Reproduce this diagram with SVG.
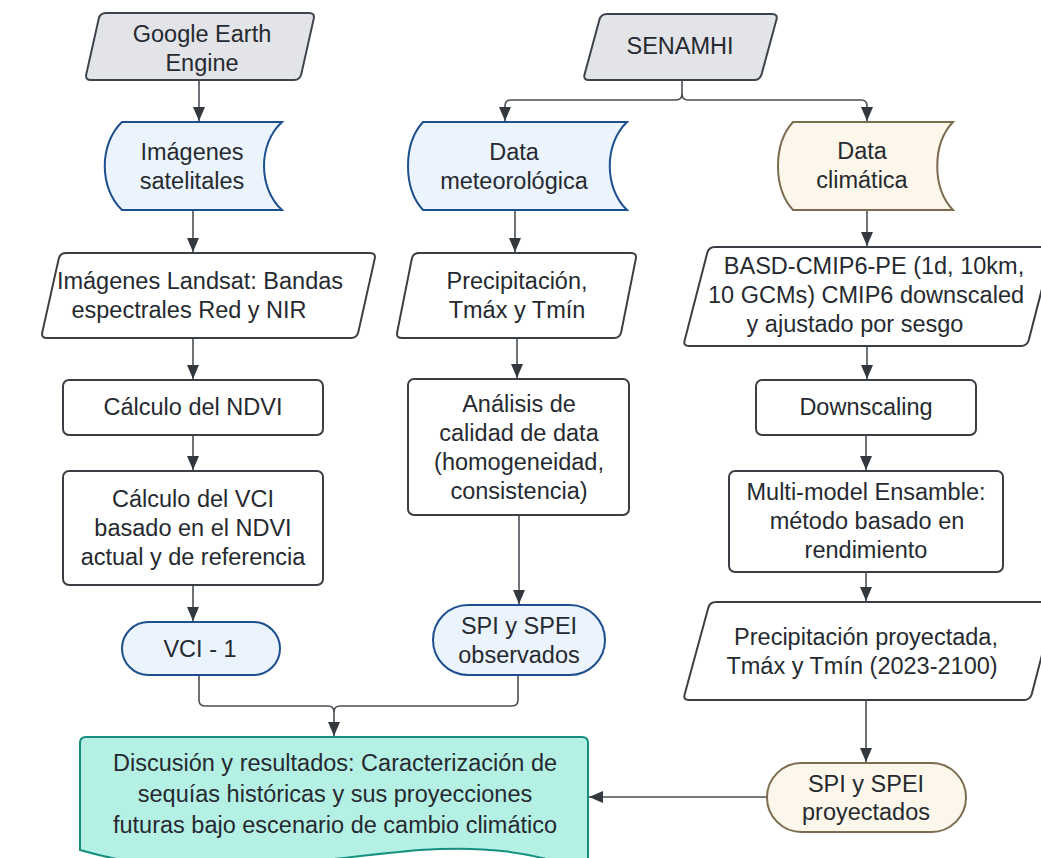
<svg xmlns="http://www.w3.org/2000/svg" width="1041" height="858" viewBox="0 0 1041 858">
<style>
text{font-family:"Liberation Sans",Arial,sans-serif;font-size:23.5px;fill:#262a30;text-anchor:middle}
.gray{fill:#e2e4e8;stroke:#3d434b;stroke-width:2}
.blue{fill:#ebf3fd;stroke:#1d4f8f;stroke-width:2}
.cream{fill:#fcf7ea;stroke:#7d6c4f;stroke-width:2}
.white{fill:#ffffff;stroke:#3a3f45;stroke-width:2}
.teal{fill:#b5f0e5;stroke:#16907e;stroke-width:2}
.conn path{fill:none;stroke:#4a4f56;stroke-width:1.6}
.arr{marker-end:url(#ah)}
</style>
<defs>
<marker id="ah" viewBox="0 0 14 12" refX="14" refY="6" markerWidth="14" markerHeight="12" markerUnits="userSpaceOnUse" orient="auto">
<path d="M0,0 L14,6 L0,12 Z" fill="#33383f"/>
</marker>
</defs>
<rect width="1041" height="858" fill="#ffffff"/>

<g id="connectors" class="conn">
<path class="arr" d="M199,80 V121"/>
<path class="arr" d="M193,210 V252"/>
<path class="arr" d="M193,338 V379"/>
<path class="arr" d="M193,435 V470"/>
<path class="arr" d="M193,585 V621"/>
<path class="arr" d="M682,80 V94 Q682,100 676,100 H511 Q505,100 505,106 V121"/>
<path class="arr" d="M682,94 Q682,100 688,100 H861 Q867,100 867,106 V121"/>
<path class="arr" d="M515,210 V252"/>
<path class="arr" d="M517,338 V378"/>
<path class="arr" d="M519,515 V604"/>
<path class="arr" d="M867,210 V246"/>
<path class="arr" d="M867,346 V379"/>
<path class="arr" d="M866,435 V470"/>
<path class="arr" d="M866,572 V601"/>
<path class="arr" d="M866,700 V762"/>
<path class="arr" d="M767,797 H589"/>
<path class="arr" d="M199,675 V700 Q199,706 205,706 H328 Q334,706 334,712 V736"/>
<path d="M518,675 V700 Q518,706 512,706 H340 Q334,706 334,712"/>
</g>

<g id="gee">
<path class="gray" d="M106,13 H309 Q315,13 313.7,18.85 L301.3,74.15 Q300,80 294,80 H91 Q85,80 86.3,74.15 L98.7,18.85 Q100,13 106,13 Z"/>
<text x="202" y="41.5">Google Earth</text>
<text x="202" y="70.5">Engine</text>
</g>

<g id="senamhi">
<path class="gray" d="M607,14 H772 Q778,14 776.4,19.8 L761.6,74.2 Q760,80 754,80 H589 Q583,80 584.6,74.2 L599.4,19.8 Q601,14 607,14 Z"/>
<text x="680" y="54">SENAMHI</text>
</g>

<g id="imagenes-satelitales">
<path class="blue" d="M122,122 H282 C258,144 258,188 282,210 H122 C99,188 99,144 122,122 Z"/>
<text x="192" y="160">Imágenes</text>
<text x="192" y="189">satelitales</text>
</g>

<g id="data-meteorologica">
<path class="blue" d="M423,122 H627 C604,144 604,188 627,210 H423 C403,188 403,144 423,122 Z"/>
<text x="514" y="160">Data</text>
<text x="514" y="189">meteorológica</text>
</g>

<g id="data-climatica">
<path class="cream" d="M793,122 H953 C932,144 932,188 953,210 H793 C773,188 773,144 793,122 Z"/>
<text x="862" y="159">Data</text>
<text x="862" y="188">climática</text>
</g>

<g id="landsat">
<path class="white" d="M66,253 H370 Q376,253 374.7,258.9 L358.3,332.1 Q357,338 351,338 H47 Q41,338 42.3,332.1 L58.7,258.9 Q60,253 66,253 Z"/>
<text x="200" y="289">Imágenes Landsat: Bandas</text>
<text x="189" y="318">espectrales Red y NIR</text>
</g>

<g id="precipitacion">
<path class="white" d="M419,253 H631 Q637,253 635.8,258.9 L621.2,332.1 Q620,338 614,338 H402 Q396,338 397.2,332.1 L411.8,258.9 Q413,253 419,253 Z"/>
<text x="517" y="289">Precipitación,</text>
<text x="517" y="318">Tmáx y Tmín</text>
</g>

<g id="basd">
<path class="white" d="M715,247 H1047 Q1053,247 1051.3,252.7 L1028.7,340.3 Q1027,346 1021,346 H689 Q683,346 684.7,340.3 L707.3,252.7 Q709,247 715,247 Z"/>
<text x="874" y="274">BASD-CMIP6-PE (1d, 10km,</text>
<text x="866" y="303">10 GCMs) CMIP6 downscaled</text>
<text x="855" y="332">y ajustado por sesgo</text>
</g>

<g id="ndvi">
<rect class="white" x="63" y="380" width="260" height="55" rx="6"/>
<text x="193" y="415">Cálculo del NDVI</text>
</g>

<g id="vci">
<rect class="white" x="63" y="471" width="260" height="114" rx="6"/>
<text x="193" y="507">Cálculo del VCI</text>
<text x="193" y="536">basado en el NDVI</text>
<text x="193" y="565">actual y de referencia</text>
</g>

<g id="analisis">
<rect class="white" x="408" y="379" width="221" height="136" rx="6"/>
<text x="519" y="412">Análisis de</text>
<text x="519" y="441">calidad de data</text>
<text x="519" y="470">(homogeneidad,</text>
<text x="519" y="499">consistencia)</text>
</g>

<g id="downscaling">
<rect class="white" x="756" y="380" width="220" height="55" rx="6"/>
<text x="866" y="415">Downscaling</text>
</g>

<g id="multimodel">
<rect class="white" x="729" y="471" width="274" height="101" rx="6"/>
<text x="866" y="500">Multi-model Ensamble:</text>
<text x="867" y="529">método basado en</text>
<text x="866" y="558">rendimiento</text>
</g>

<g id="precip-proyectada">
<path class="white" d="M716,602 H1050 Q1056,602 1054.3,607.7 L1031.7,694.3 Q1030,700 1024,700 H689 Q683,700 684.7,694.3 L708.3,607.7 Q710,602 716,602 Z"/>
<text x="866" y="645">Precipitación proyectada,</text>
<text x="862" y="674">Tmáx y Tmín (2023-2100)</text>
</g>

<g id="vci-1">
<rect class="blue" x="122" y="622" width="158" height="53" rx="26.5"/>
<text x="200" y="657">VCI - 1</text>
</g>

<g id="spi-observados">
<rect class="blue" x="433" y="605" width="172" height="70" rx="35"/>
<text x="519" y="634">SPI y SPEI</text>
<text x="519" y="663">observados</text>
</g>

<g id="spi-proyectados">
<rect class="cream" x="767" y="763" width="199" height="69" rx="34.5"/>
<text x="866" y="792">SPI y SPEI</text>
<text x="866" y="820">proyectados</text>
</g>

<g id="discusion">
<path class="teal" d="M86,737 H582 Q588,737 588,743 V872 C530,850 480,846 420,850 C300,860 200,885 80,850 V743 Q80,737 86,737 Z"/>
<text x="335" y="771">Discusión y resultados: Caracterización de</text>
<text x="335" y="802">sequías históricas y sus proyecciones</text>
<text x="335" y="833">futuras bajo escenario de cambio climático</text>
</g>
</svg>
